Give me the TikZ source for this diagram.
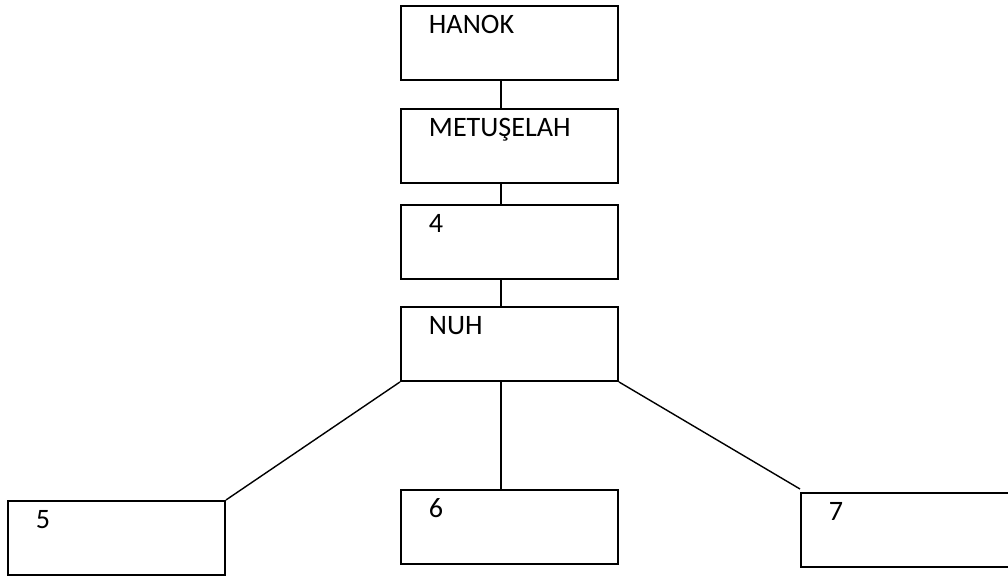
\documentclass[tikz,border=0pt]{standalone}
\usepackage{fontspec}
\setmainfont{Carlito}
\usepackage{tikz}
\usetikzlibrary{positioning,calc}

\tikzset{
    famblock/.style={draw, line width=1.1pt, anchor=north west, align=left,
        text width=3.22cm, inner xsep=0.56cm, inner ysep=0pt,
        text height=0.56cm, text depth=0.92cm, font=\fontsize{16}{19}\selectfont},
    famline/.style={line width=0.8pt}
}

\begin{document}
\begin{tikzpicture}
    \useasboundingbox (0,0) rectangle (20.16,-11.54);

    % the line of descent
    \node[famblock] (hanok) at (8.00,-0.10) {HANOK};
    \node[famblock] (metu)  at (8.00,-2.16) {METUŞELAH};
    \node[famblock] (four)  at (8.00,-4.08) {4};
    \node[famblock] (nuh)   at (8.00,-6.12) {NUH};

    % the three sons (the last box runs off the page)
    \node[famblock] (five)  at (0.14,-10.00) {5};
    \node[famblock] (six)   at (8.00,-9.78) {6};
    \node[famblock, text width=4.2cm] (seven) at (16.00,-9.84) {7};

    \draw[famline] ([xshift=-0.17cm]hanok.south) -- ([xshift=-0.17cm]metu.north);
    \draw[famline] ([xshift=-0.17cm]metu.south) -- ([xshift=-0.17cm]four.north);
    \draw[famline] ([xshift=-0.17cm]four.south) -- ([xshift=-0.17cm]nuh.north);

    \draw[famline] (nuh.south west) -- (five.north east);
    \draw[famline] ([xshift=-0.17cm]nuh.south) -- ([xshift=-0.17cm]six.north);
    \draw[famline] (nuh.south east) -- ([yshift=0.06cm]seven.north west);
\end{tikzpicture}
\end{document}
